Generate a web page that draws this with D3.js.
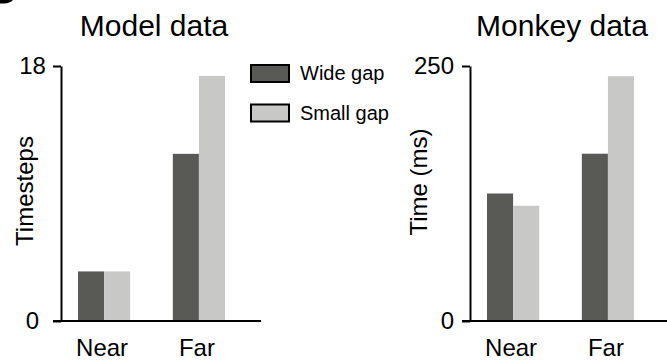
<!DOCTYPE html>
<html>
<head>
<meta charset="utf-8">
<title>Model vs Monkey data</title>
<style>
  html, body { margin: 0; padding: 0; background: #fff; }
  svg { display: block; }
  text { font-family: "Liberation Sans", Arial, sans-serif; fill: #000; }
  .axis path, .axis line { stroke: #000; stroke-width: 2px; }
  .axis text { font-size: 24px; }
</style>
</head>
<body>
<svg width="667" height="362"></svg>
<script src="https://d3js.org/d3.v7.min.js"></script>
<script>
  // data
  const categories = ["Near", "Far"];
  const groups = ["Wide gap", "Small gap"];
  const modelWide = [3.5, 11.8];
  const modelSmall = [3.5, 17.3];
  const monkeyWide = [125, 164];
  const monkeySmall = [113, 240];
  const modelTicks = [0, 18];
  const monkeyTicks = [0, 250];

  const colors = { "Wide gap": "#595a56", "Small gap": "#c8c8c6" };

  const svg = d3.select("svg");

  // clipped bit of the panel letter in the corner
  svg.append("path")
    .attr("d", "M0,0 L13,0 C11,2 8,3.5 4,3.5 L0,3.5 Z")
    .attr("fill", "#000");

  function panel(opts) {
    const g = svg.append("g");
    const y = d3.scaleLinear().domain([0, opts.max]).range([321, 66]);
    const x = d3.scaleBand().domain(categories).range(opts.barRange).paddingInner(0.45);
    const x1 = d3.scaleBand().domain(groups).range([0, x.bandwidth()]);

    const rows = categories.map((c, i) => ({
      cat: c,
      vals: [{ g: "Wide gap", v: opts.wide[i] }, { g: "Small gap", v: opts.small[i] }]
    }));

    g.selectAll(".grp")
      .data(rows)
      .join("g")
      .attr("transform", d => `translate(${x(d.cat)},0)`)
      .selectAll("rect")
      .data(d => d.vals)
      .join("rect")
      .attr("x", d => x1(d.g))
      .attr("width", x1.bandwidth())
      .attr("y", d => y(d.v))
      .attr("height", d => y(0) - y(d.v))
      .attr("fill", d => colors[d.g]);

    // y axis
    const ax = g.append("g")
      .attr("class", "axis")
      .attr("transform", `translate(${opts.axisX},0)`)
      .call(d3.axisLeft(y).tickValues(opts.ticks).tickSize(8).tickSizeOuter(0).tickPadding(8))
      .call(a => a.selectAll("text").attr("fill", "#000"));
    if (opts.centerTicks) {
      // the left panel has its tick numbers centred on one another
      ax.selectAll("text").attr("text-anchor", "middle").attr("x", -28.5);
    }

    // x axis line
    g.append("line")
      .attr("x1", opts.axisX - 8).attr("x2", opts.axisEnd)
      .attr("y1", y(0)).attr("y2", y(0))
      .attr("stroke", "#000").attr("stroke-width", 2);

    // category labels
    g.selectAll(".cat")
      .data(categories)
      .join("text")
      .attr("x", d => x(d) + x.bandwidth() / 2 - 2)
      .attr("y", 356)
      .attr("text-anchor", "middle")
      .attr("font-size", 24)
      .text(d => d);

    // title
    g.append("text")
      .attr("x", opts.titleX).attr("y", 36)
      .attr("text-anchor", "middle")
      .attr("font-size", 30)
      .text(opts.title);

    // y label
    g.append("text")
      .attr("transform", `translate(${opts.labelX},${opts.labelY}) rotate(-90)`)
      .attr("text-anchor", "middle")
      .attr("font-size", 24)
      .text(opts.ylabel);
  }

  panel({
    title: "Model data", titleX: 154, ylabel: "Timesteps", labelX: 33, labelY: 191,
    max: 18, ticks: modelTicks, wide: modelWide, small: modelSmall,
    axisX: 61, axisEnd: 261, barRange: [78, 225], centerTicks: true
  });

  panel({
    title: "Monkey data", titleX: 562, ylabel: "Time (ms)", labelX: 427, labelY: 182,
    max: 250, ticks: monkeyTicks, wide: monkeyWide, small: monkeySmall,
    axisX: 470, axisEnd: 667, barRange: [487, 634], centerTicks: false
  });

  // legend
  const legend = svg.append("g").attr("transform", "translate(251,65)");
  const ly = d3.scalePoint().domain(groups).range([0, 39.5]);
  const item = legend.selectAll("g")
    .data(groups)
    .join("g")
    .attr("transform", d => `translate(0,${ly(d)})`);
  item.append("rect")
    .attr("width", 38).attr("height", 17)
    .attr("fill", d => colors[d])
    .attr("stroke", "#000").attr("stroke-width", 2);
  item.append("text")
    .attr("x", 49).attr("y", 15)
    .attr("font-size", 20)
    .text(d => d);
</script>
</body>
</html>
